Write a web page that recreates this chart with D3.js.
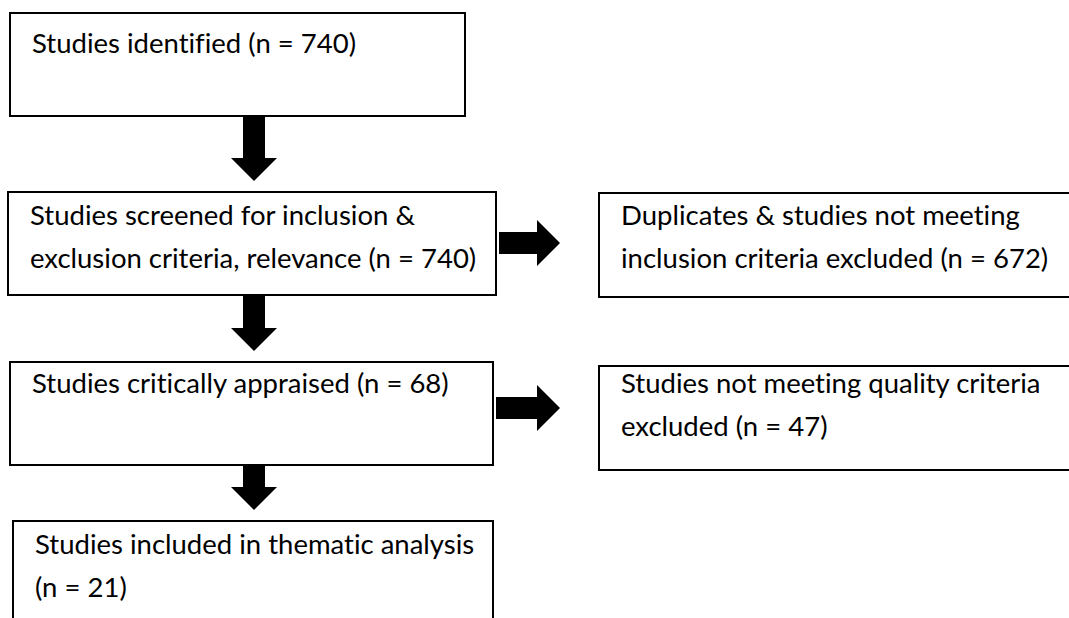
<!DOCTYPE html>
<html>
<head>
<meta charset="utf-8">
<script src="https://cdn.jsdelivr.net/npm/d3@7"></script>
<style>
  html, body { margin: 0; padding: 0; background: #fff; overflow: hidden; }
  svg { display: block; }
  text { font-family: Lato, "Open Sans", sans-serif; font-size: 27.5px; fill: #000; font-variant-ligatures: none; }
</style>
</head>
<body>
<svg width="1069" height="618"></svg>
<script>
// main flow: one box per stage, text broken into lines, count added to the last line
const stageLines = [
    ["Studies identified"],
    ["Studies screened for inclusion &", "exclusion criteria, relevance"],
    ["Studies critically appraised"],
    ["Studies included in thematic analysis", ""]
];
const stageCounts = [740, 740, 68, 21];

// side boxes: studies dropped after stage 2 and stage 3
const exclusionLines = [
    ["Duplicates & studies not meeting", "inclusion criteria excluded"],
    ["Studies not meeting quality criteria", "excluded"]
];
const exclusionCounts = [672, 47];
const exclusionFrom = [1, 2];

const svg = d3.select("svg");

// layout of the boxes (page coordinates)
const rowTop = [13, 192, 362, 521];
const rowHeight = [103, 103, 103, 120];
const leftX = [10, 8, 10, 13];
const leftRight = [465, 496, 493, 493];
const textMid = [30, 23, 21, 23];       // first text line centre, below box top
const sideX = 599, sideRight = 1080;
const sideTop = [193, 366], sideHeight = 104;
const sideTextMid = [22, 17];

function label(lines, n) {
    return lines.map((l, i) => i === lines.length - 1 ? (l + " (n = " + n + ")").trim() : l);
}

const stages = stageLines.map((lines, i) => ({
    x: leftX[i], y: rowTop[i], w: leftRight[i] - leftX[i], h: rowHeight[i],
    mid: textMid[i], lines: label(lines, stageCounts[i])
}));
const sides = exclusionLines.map((lines, i) => ({
    x: sideX, y: sideTop[i], w: sideRight - sideX, h: sideHeight,
    mid: sideTextMid[i], lines: label(lines, exclusionCounts[i]), from: exclusionFrom[i]
}));

function drawBoxes(data, cls) {
    const g = svg.selectAll("g." + cls)
        .data(data)
        .join("g")
        .attr("class", cls)
        .attr("transform", d => `translate(${d.x},${d.y})`);
    g.append("rect")
        .attr("width", d => d.w)
        .attr("height", d => d.h)
        .attr("fill", "#fff")
        .attr("stroke", "#000")
        .attr("stroke-width", 2);
    g.append("text")
        .attr("y", d => d.mid + 10)
        .selectAll("tspan")
        .data(d => d.lines)
        .join("tspan")
        .attr("x", 22)
        .attr("dy", (d, i) => i === 0 ? 0 : 43)
        .text(d => d);
}

drawBoxes(stages, "stage");
drawBoxes(sides, "side");

// block arrows
const shaft = 11, head = 23, headLen = 23;
function downArrow(cx, y0, y1) {
    const yh = y1 - headLen;
    return d3.line()([
        [cx - shaft, y0], [cx + shaft, y0], [cx + shaft, yh], [cx + head, yh],
        [cx, y1], [cx - head, yh], [cx - shaft, yh]
    ]) + "Z";
}
function rightArrow(cy, x0, x1) {
    const xh = x1 - headLen;
    return d3.line()([
        [x0, cy - shaft], [xh, cy - shaft], [xh, cy - head], [x1, cy],
        [xh, cy + head], [xh, cy + shaft], [x0, cy + shaft]
    ]) + "Z";
}

const downs = d3.range(stages.length - 1).map(i => ({
    d: downArrow(254, stages[i].y + stages[i].h, stages[i + 1].y - 11)
}));
const rights = sides.map(s => {
    const st = stages[s.from];
    return { d: rightArrow(st.y + st.h / 2 - 0.5 + (s.from === 2 ? -5 : 0), st.x + st.w + 3, s.x - 39) };
});

svg.selectAll("path.arrow")
    .data(downs.concat(rights))
    .join("path")
    .attr("class", "arrow")
    .attr("d", d => d.d)
    .attr("fill", "#000");
</script>
</body>
</html>
